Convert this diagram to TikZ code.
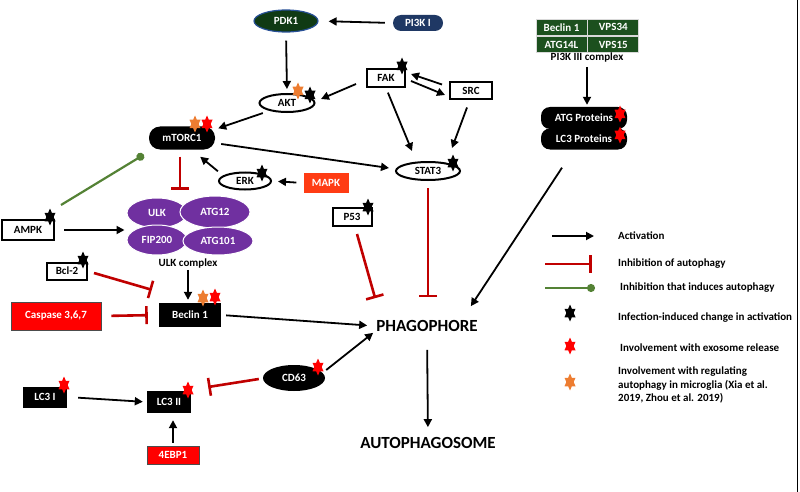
\documentclass[tikz,border=0pt]{standalone}
\usepackage{fontspec}
\setmainfont{Carlito}
\usetikzlibrary{positioning,shapes.geometric,arrows.meta}

\definecolor{pdkgreen}{RGB}{16,58,20}
\definecolor{pdkblue}{RGB}{40,80,150}
\definecolor{pinavy}{RGB}{31,56,100}
\definecolor{pigreen}{RGB}{28,80,30}
\definecolor{ulkpurple}{RGB}{112,48,160}
\definecolor{mapkred}{RGB}{255,60,20}
\definecolor{inhred}{RGB}{192,0,0}
\definecolor{indgreen}{RGB}{84,130,53}
\definecolor{starorange}{RGB}{237,125,49}

\begin{document}
\begin{tikzpicture}[x=1pt, y=-1pt, font=\bfseries\fontsize{11}{13}\selectfont,
    arrow/.style={-{Triangle[length=8pt,width=8pt]}, line width=1.8pt},
    inhib/.style={-{Bar[width=18pt]}, line width=2.6pt, draw=inhred},
    induce/.style={-{Circle[length=8pt]}, line width=2.2pt, draw=indgreen},
    box/.style={draw, rectangle, line width=2pt, inner sep=0pt, minimum height=18pt},
    oval/.style={draw, ellipse, line width=2pt, inner sep=0pt, minimum height=18pt},
    blackbox/.style={rectangle, fill=black, text=white, inner sep=0pt, minimum height=22pt},
    redbox/.style={rectangle, fill=red, draw=black!70, line width=0.8pt, text=white, inner sep=0pt},
    roundedrect/.style={rectangle, rounded corners=11pt, fill=black, text=white, inner sep=0pt, minimum height=23pt},
    ulkpart/.style={ellipse, fill=ulkpurple, draw=white, line width=1pt, text=white, inner sep=0pt},
    cell/.style={rectangle, fill=pigreen, draw=gray!30, line width=0.8pt, text=white, inner sep=0pt, minimum width=51pt, minimum height=16.5pt},
    big/.style={font=\bfseries\fontsize{17}{20}\selectfont, inner sep=1pt},
    legend/.style={anchor=west, inner sep=0pt, align=left},
    hexstar/.pic={\fill (0,-8.5) -- (-5.5,4.25) -- (5.5,4.25) -- cycle (0,8.5) -- (5.5,-4.25) -- (-5.5,-4.25) -- cycle;}]

    \useasboundingbox (0,0) rectangle (800,492);
    \draw[line width=1.3pt] (797.5,0) -- (797.5,492);

    % upper signalling
    \node[ellipse, fill=pdkgreen, draw=pdkblue, line width=1.2pt, text=white, minimum width=64pt, minimum height=22pt, inner sep=0pt] (pdk1) at (286,21) {PDK1};
    \node[roundedrect, fill=pinavy, rounded corners=8pt, minimum width=50pt, minimum height=16pt] (pi3k) at (418,23) {PI3K I};
    \node[oval, minimum width=55pt] (akt) at (287,103) {AKT};
    \node[box, minimum width=38pt] (fak) at (386,78) {FAK};
    \node[box, minimum width=42pt, minimum height=17pt] (src) at (471,91) {SRC};
    \node[oval, minimum width=64pt] (stat3) at (428,171) {STAT3};
    \node[roundedrect, minimum width=66pt] (mtorc1) at (182,138) {mTORC1};
    \node[oval, minimum width=52pt, minimum height=17pt] (erk) at (245,181) {ERK};
    \node[rectangle, fill=mapkred, text=white, minimum width=45pt, minimum height=20pt, inner sep=0pt] (mapk) at (326,183) {MAPK};
    \node[box, minimum width=39pt] (p53) at (352,217) {P53};

    % ULK complex
    \node[ulkpart, minimum width=60pt, minimum height=30pt] (ulk) at (157,213) {ULK};
    \node[ulkpart, minimum width=70pt, minimum height=32pt] (atg12) at (215,212) {ATG12};
    \node[ulkpart, minimum width=60pt, minimum height=30pt] (fip200) at (157,240) {FIP200};
    \node[ulkpart, minimum width=70pt, minimum height=28pt] (atg101) at (218,241) {ATG101};
    \node[inner sep=1pt] (ulkcx) at (188,264) {ULK complex};

    % left side
    \node[box, minimum width=52pt, minimum height=20pt] (ampk) at (28,230) {AMPK};
    \node[box, minimum width=40pt, minimum height=17pt] (bcl2) at (67,271) {Bcl-2};
    \node[redbox, minimum width=90pt, minimum height=28pt] (casp) at (56,316) {Caspase 3,6,7};
    \node[blackbox, minimum width=62pt, minimum height=24pt] (beclin) at (190,315) {Beclin 1};
    \node[blackbox, minimum width=44pt, minimum height=21pt] (lc3i) at (45,397) {LC3 I};
    \node[blackbox, minimum width=44pt] (lc3ii) at (169,402) {LC3 II};
    \node[redbox, minimum width=52pt, minimum height=18pt] (ebp1) at (173,455) {4EBP1};
    \node[ellipse, fill=black, text=white, minimum width=62pt, minimum height=26pt, inner sep=0pt] (cd63) at (294,378) {CD63};

    % centre
    \node[big] (phago) at (427,326) {PHAGOPHORE};
    \node[big] (autoph) at (428,443) {AUTOPHAGOSOME};

    % PI3K III complex
    \node[cell] (c1) at (561.5,27.25) {Beclin 1};
    \node[cell, right=0pt of c1] (c2) {VPS34};
    \node[cell, below=0pt of c1] (c3) {ATG14L};
    \node[cell, right=0pt of c3] (c4) {VPS15};
    \node[inner sep=1pt] (pi3klbl) at (587,58) {PI3K III complex};
    \node[roundedrect, rounded corners=9pt, minimum width=86pt, minimum height=22pt] (atgp) at (584,118) {ATG Proteins};
    \node[roundedrect, rounded corners=9pt, minimum width=86pt, minimum height=21pt] (lc3p) at (584,139) {LC3 Proteins};

    % stars
    \pic[black] at (402,66) {hexstar};
    \pic[starorange] at (298,91) {hexstar};
    \pic[black] at (310,95) {hexstar};
    \pic[black] at (453,163) {hexstar};
    \pic[black] at (262,173) {hexstar};
    \pic[black] at (368,207) {hexstar};
    \pic[black] at (50,217) {hexstar};
    \pic[black] at (83,260) {hexstar};
    \pic[starorange] at (195,124) {hexstar};
    \pic[red] at (207,124) {hexstar};
    \pic[starorange] at (203,298) {hexstar};
    \pic[red] at (215,297) {hexstar};
    \pic[red] at (620,114) {hexstar};
    \pic[red] at (620,135) {hexstar};
    \pic[red] at (318,367) {hexstar};
    \pic[red] at (64,385) {hexstar};
    \pic[red] at (188,390) {hexstar};

    % activation
    \draw[arrow, shorten <=8pt, shorten >=10pt] (pi3k.west) -- (pdk1.east);
    \draw[arrow, shorten <=8pt, shorten >=4pt] (pdk1.south) -- (akt.north);
    \draw[arrow] ([shift={(-10,6)}]fak.west) -- ([shift={(5.5,-4)}]akt.east);
    \draw[arrow] ([shift={(-7,3)}]src.north west) -- ([shift={(5,-4)}]fak.east);
    \draw[arrow] ([shift={(5,3)}]fak.east) -- ([shift={(-4,4)}]src.west);
    \draw[arrow, shorten <=5pt] (fak.south) -- ([shift={(-16,-10)}]stat3.north);
    \draw[arrow] ([shift={(-4,7)}]src.south) -- ([shift={(24,-13)}]stat3.north);
    \draw[arrow] ([shift={(-4,3)}]akt.south west) -- ([shift={(3,2)}]mtorc1.north east);
    \draw[arrow] ([shift={(6,6)}]mtorc1.east) -- ([shift={(-6,-3)}]stat3.west);
    \draw[arrow] ([shift={(-8,-3)}]erk.north west) -- ([shift={(-15,7)}]mtorc1.south east);
    \draw[arrow, shorten <=7pt, shorten >=6pt] (mapk.west) -- (erk.east);
    \draw[arrow, shorten <=9pt, shorten >=2pt] (ampk.east) -- (ampk.east -| fip200.west);
    \draw[arrow, shorten >=3pt] (ulkcx.south) -- (ulkcx.south |- beclin.north);
    \draw[arrow, shorten <=5pt, shorten >=8pt] (beclin.east) -- (phago.west);
    \draw[arrow] ([shift={(1,-8)}]cd63.east) -- ([shift={(-2,0)}]phago.south west);
    \draw[arrow] ([shift={(-22,18)}]lc3p.south) -- ([shift={(-8,-13)}]phago.north east);
    \draw[arrow, shorten <=3pt, shorten >=2pt] (pi3klbl.south) -- (pi3klbl.south |- atgp.north);
    \draw[arrow, shorten <=17pt, shorten >=9pt] (phago.south) -- (autoph.north);
    \draw[arrow, shorten <=11pt, shorten >=4pt] (lc3i.east) -- (lc3ii.west);
    \draw[arrow, shorten <=3pt, shorten >=7pt] (ebp1.north) -- (ebp1.north |- lc3ii.south);

    % inhibition
    \draw[inhib, shorten <=7pt, shorten >=8pt] ([xshift=-2pt]mtorc1.south) -- ([xshift=-2pt]mtorc1.south |- ulk.north);
    \draw[inhib] ([shift={(6,2)}]bcl2.east) -- ([shift={(-7,-13)}]beclin.north west);
    \draw[inhib, shorten <=10pt, shorten >=11pt] (casp.east) -- (beclin.west);
    \draw[inhib, shorten <=7pt, shorten >=22pt] (stat3.south) -- (stat3.south |- phago.north);
    \draw[inhib] ([shift={(5,7)}]p53.south) -- ([shift={(0,-21)}]phago.north west);
    \draw[inhib] ([shift={(-4,1)}]cd63.west) -- ([shift={(17,-15)}]lc3ii.east);
    \draw[induce] ([shift={(6,-14)}]ampk.north east) -- ([shift={(-5,5)}]mtorc1.south west);

    % legend
    \coordinate (la1) at (552,236);
    \coordinate (la2) at (594,236);
    \coordinate (li1) at (545,264);
    \coordinate (li2) at (592,264);
    \coordinate (lg1) at (545,288);
    \coordinate (lg2) at (595,288);
    \draw[arrow] (la1) -- (la2);
    \draw[inhib] (li1) -- (li2);
    \draw[induce] (lg1) -- (lg2);
    \pic[black] at (570,313) {hexstar};
    \pic[red] at (570,346) {hexstar};
    \pic[starorange] at (570,382) {hexstar};
    \node[legend] (tact) at (618,236) {Activation};
    \node[legend] (tinh) at (618,264) {Inhibition of autophagy};
    \node[legend] (tind) at (620,288) {Inhibition that induces autophagy};
    \node[legend] (tinf) at (618,318) {Infection-induced change in activation};
    \node[legend] (texo) at (620,348) {Involvement with exosome release};
    \node[legend, font=\bfseries\fontsize{11}{13.5}\selectfont] (tmic) at (618,385) {Involvement with regulating\\autophagy in microglia (Xia et al.\\2019, Zhou et al. 2019)};

\end{tikzpicture}
\end{document}
